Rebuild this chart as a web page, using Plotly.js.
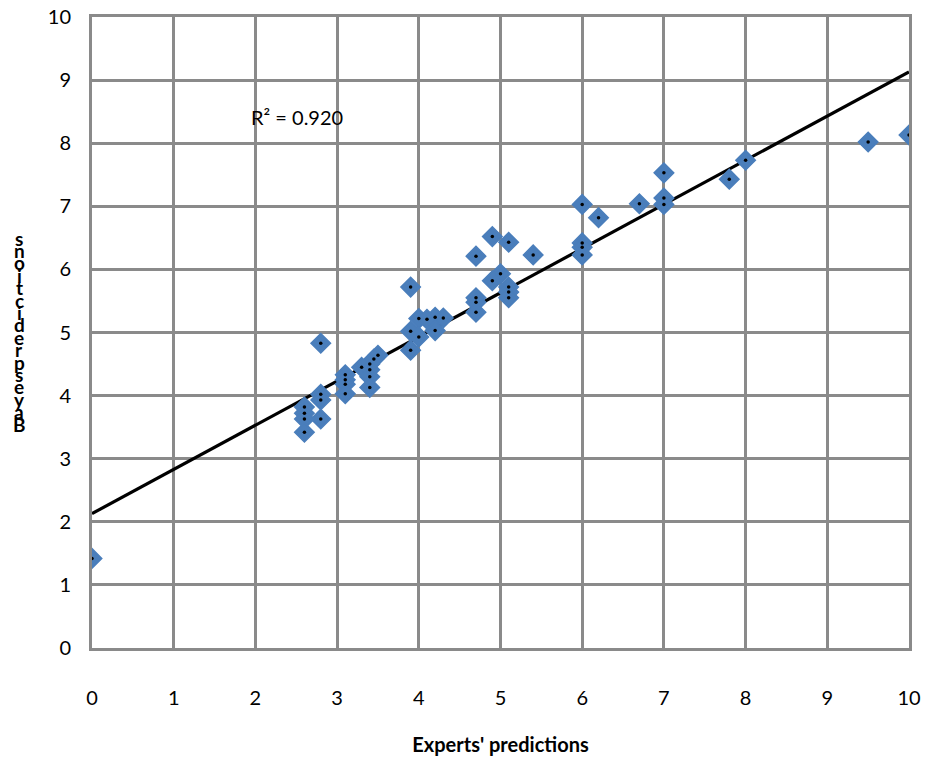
<!DOCTYPE html>
<html>
<head>
<meta charset="utf-8">
<script src="https://cdn.plot.ly/plotly-3.0.1.min.js"></script>
<style>html,body{margin:0;padding:0;background:#fff;}#chart{width:925px;height:761px;}</style>
</head>
<body>
<div id="chart"></div>
<script>
// Experts' predictions (x) vs Bayes predictions (y)
const expertsX = [0, 10, 9.5, 8, 7.8, 7, 7, 7, 6.7, 6.2, 6, 6, 6, 6,
  5.4, 5.1, 4.9, 4.7, 3.9, 5.0, 4.9, 5.1, 5.1, 5.1, 4.7, 4.7, 4.7,
  4.0, 4.2, 4.3, 4.1, 4.2, 3.9, 4.0, 3.9,
  3.5, 3.45, 3.4, 3.3, 3.4, 3.4, 3.4, 3.1, 3.1, 3.1, 3.1,
  2.8, 2.8, 2.8, 2.8, 2.6, 2.6, 2.6, 2.6];
const bayesY = [1.42, 8.13, 8.02, 7.73, 7.43, 7.53, 7.13, 7.03, 7.04, 6.82, 7.03, 6.42, 6.35, 6.23,
  6.23, 6.43, 6.52, 6.21, 5.72, 5.93, 5.82, 5.72, 5.64, 5.55, 5.55, 5.48, 5.32,
  5.22, 5.24, 5.23, 5.21, 5.03, 5.02, 4.93, 4.72,
  4.64, 4.58, 4.5, 4.45, 4.41, 4.3, 4.13, 4.33, 4.25, 4.18, 4.03,
  4.83, 4.02, 3.93, 3.63, 3.82, 3.72, 3.63, 3.42];
const trendX = [0, 10];
const trendY = [2.13, 9.13];
const xTicks = [0,1,2,3,4,5,6,7,8,9,10];
const yTicks = [0,1,2,3,4,5,6,7,8,9,10];
const r2Label = 'R² = 0.920';
const xTitle = "Experts' predictions";
const yTitle = 'Bayes predictions';

const blue = '#4a7ebb';
const data = [
  {x: trendX, y: trendY, mode: 'lines', type: 'scatter',
   line: {color: '#000', width: 3.2}, hoverinfo: 'skip', showlegend: false},
  {x: expertsX, y: bayesY, mode: 'markers', type: 'scatter',
   marker: {symbol: 'diamond', size: 15, color: blue, line: {color: blue, width: 1.5}},
   showlegend: false},
  {x: expertsX, y: bayesY, mode: 'markers', type: 'scatter',
   marker: {symbol: 'circle', size: 3.5, color: '#000'}, showlegend: false}
];

// stacked upright letters for the y title (as in the reference)
const letters = yTitle.replace(/ /g, '').split('').reverse();
const annotations = [
  {x: 2.51, y: 8.42, xref: 'x', yref: 'y', text: r2Label, showarrow: false,
   font: {family: 'Lato, Open Sans, sans-serif', size: 20, color: '#000'}}
];
const topPx = 238, stepPx = 12.4;
letters.forEach((ch, i) => {
  const py = topPx + i * stepPx;
  annotations.push({x: 19, y: py, xref: 'paper', yref: 'paper', text: ch, showarrow: false,
    font: {family: 'Lato, Open Sans, sans-serif', size: 19, color: '#000', weight: 'bold'},
    xanchor: 'center', yanchor: 'middle'});
});
// convert pixel positions to paper coordinates
const H = 761, mt = 17, mb = 113, ml = 92, mr = 16;
annotations.forEach(a => {
  if (a.xref === 'paper') {
    a.y = 1 - (a.y - mt) / (H - mt - mb);
    a.x = (a.x - ml) / (925 - ml - mr);
  }
});

const gridColor = '#8a8a8a';
const layout = {
  width: 925, height: 761,
  margin: {l: ml, r: mr, t: mt, b: mb},
  paper_bgcolor: '#fff', plot_bgcolor: '#fff',
  font: {family: 'Lato, Open Sans, sans-serif', color: '#000'},
  xaxis: {range: [0, 10], tickvals: xTicks, ticktext: xTicks.map(String),
    showgrid: true, gridcolor: gridColor, gridwidth: 3,
    zeroline: false, showline: true, linecolor: gridColor, linewidth: 3, mirror: true,
    ticks: '', ticklabelstandoff: 30, tickfont: {size: 20},
    title: {text: xTitle, font: {size: 20, weight: 'bold'}, standoff: 30}},
  yaxis: {range: [0, 10], tickvals: yTicks, ticktext: yTicks.map(String),
    showgrid: true, gridcolor: gridColor, gridwidth: 3,
    zeroline: false, showline: true, linecolor: gridColor, linewidth: 3, mirror: true,
    ticks: '', ticklabelstandoff: 14, tickfont: {size: 20}},
  annotations: annotations
};
Plotly.newPlot('chart', data, layout, {displayModeBar: false, staticPlot: true});
</script>
</body>
</html>
